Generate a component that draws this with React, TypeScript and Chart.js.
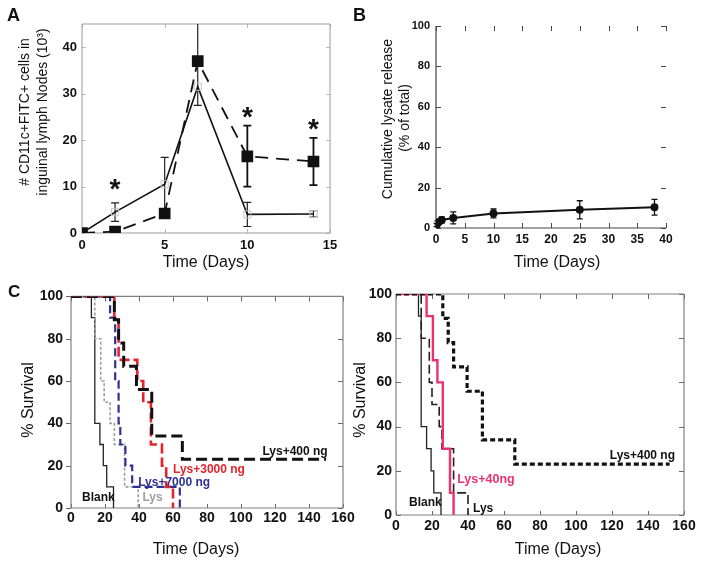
import React, { useEffect, useRef } from "react";
import { Chart, registerables } from "chart.js";

Chart.register(...registerables);

const FONT = "'Liberation Sans', Arial, Helvetica, sans-serif";

// ---------- Panel A : CD11c+FITC+ cells ----------
const aDays = [0, 2, 5, 7, 10, 14];
const aSolid = [0, 4.5, 10.5, 31.5, 4.0, 4.1];
const aSolidLow = [0, 2.5, 4.7, 27.5, 1.4, 3.4];
const aSolidHigh = [0, 6.5, 16.3, 48, 6.6, 4.8];
const aSquares = [0, 0.3, 4.2, 37, 16.5, 15.4];
const aSquaresLow = [0, 0.3, 4.2, 37, 10, 10.3];
const aSquaresHigh = [0, 0.3, 4.2, 37, 23.1, 20.5];
const aStarDays = [2, 10, 14];
const aStarLevels = [11, 26.5, 24];
const aXTicks = [0, 5, 10, 15];
const aYTicks = [0, 10, 20, 30, 40];

// ---------- Panel B : cumulative lysate release ----------
const bDays = [0, 0.1, 0.25, 0.5, 1, 3, 10, 25, 38];
const bRelease = [0, 1.5, 2.5, 3, 4, 5, 7.2, 9, 10.3];
const bError = [0, 0.8, 1, 1, 1.5, 3, 2.2, 4.5, 3.9];
const bXTicks = [0, 5, 10, 15, 20, 25, 30, 35, 40];
const bYTicks = [0, 20, 40, 60, 80, 100];

// ---------- Panel C : survival ----------
const cXTicks = [0, 20, 40, 60, 80, 100, 120, 140, 160];
const cYTicks = [0, 20, 40, 60, 80, 100];

const c1BlankDays = [0, 12, 14, 17, 19, 21, 25];
const c1BlankSurv = [100, 90, 40, 30, 20, 10, 0];
const c1LysDays = [0, 14, 17.5, 19.5, 23, 25.5, 31.5, 39.5];
const c1LysSurv = [100, 80, 60, 50, 40, 30, 10, 0];
const c1Lys7000Days = [0, 23, 26, 28, 29, 32, 36, 64];
const c1Lys7000Surv = [100, 90, 60, 40, 30, 20, 10, 0];
const c1Lys3000Days = [0, 25.5, 28, 39, 42.5, 47, 53.5, 56, 60];
const c1Lys3000Surv = [100, 90, 70, 60, 50, 30, 20, 10, 0];
const c1Lys400Days = [0, 25.5, 28, 31, 38.5, 47.5, 65.5, 150];
const c1Lys400Surv = [100, 89, 78, 67, 56, 34, 23, 23];

const c2BlankDays = [0, 12.5, 14, 17, 19.5, 21, 25];
const c2BlankSurv = [100, 90, 40, 30, 20, 10, 0];
const c2LysDays = [0, 14, 18.5, 20, 24, 25.5, 32, 40];
const c2LysSurv = [100, 80, 60, 50, 40, 30, 10, 0];
const c2Lys40Days = [0, 17, 20.5, 23, 26, 30, 32];
const c2Lys40Surv = [100, 90, 70, 60, 30, 10, 0];
const c2Lys400Days = [0, 26, 29, 32, 39.5, 48, 66, 152];
const c2Lys400Surv = [100, 89, 78, 67, 56, 34, 23, 23];

// ---------- helpers ----------
const pts = (xs: number[], ys: number[]) => xs.map((x, i) => ({ x, y: ys[i] }));

type Area = { w: number; h: number; l: number; r: number; t: number; b: number };

function axis(kind: "x" | "y", min: number, max: number, vals: number[], size: number, pad: number, fit: number) {
  return {
    type: "linear",
    min,
    max,
    grid: { display: false, drawTicks: false },
    border: { display: false },
    ticks: {
      font: { family: FONT, size, weight: "bold" },
      color: "#111",
      padding: pad,
      autoSkip: false,
      maxRotation: 0,
    },
    afterBuildTicks: (s: any) => {
      s.ticks = vals.map((v) => ({ value: v }));
    },
    afterFit: (s: any) => {
      if (kind === "x") s.height = fit;
      else s.width = fit;
    },
  };
}

type TickSpec = { side: "left" | "right" | "top" | "bottom"; values: number[]; len: number; color: string; width?: number };

function framePlugin(sides: string[], color: string, lw: number, ticks: TickSpec[]) {
  return {
    id: "frame",
    beforeDatasetsDraw(chart: any) {
      const { ctx, chartArea: a, scales } = chart;
      ctx.save();
      ctx.lineCap = "butt";
      ticks.forEach((tk) => {
        ctx.strokeStyle = tk.color;
        ctx.lineWidth = tk.width || 1;
        ctx.beginPath();
        tk.values.forEach((v) => {
          if (tk.side === "left" || tk.side === "right") {
            const y = Math.round(scales.y.getPixelForValue(v)) + 0.5;
            const x0 = tk.side === "left" ? a.left : a.right;
            const dir = tk.side === "left" ? 1 : -1;
            ctx.moveTo(x0, y);
            ctx.lineTo(x0 + dir * tk.len, y);
          } else {
            const x = Math.round(scales.x.getPixelForValue(v)) + 0.5;
            const y0 = tk.side === "top" ? a.top : a.bottom;
            const dir = tk.side === "top" ? 1 : -1;
            ctx.moveTo(x, y0);
            ctx.lineTo(x, y0 + dir * tk.len);
          }
        });
        ctx.stroke();
      });
      ctx.strokeStyle = color;
      ctx.lineWidth = lw;
      ctx.beginPath();
      if (sides.includes("left")) {
        ctx.moveTo(a.left, a.top);
        ctx.lineTo(a.left, a.bottom);
      }
      if (sides.includes("bottom")) {
        ctx.moveTo(a.left, a.bottom);
        ctx.lineTo(a.right, a.bottom);
      }
      if (sides.includes("right")) {
        ctx.moveTo(a.right, a.top);
        ctx.lineTo(a.right, a.bottom);
      }
      if (sides.includes("top")) {
        ctx.moveTo(a.left, a.top);
        ctx.lineTo(a.right, a.top);
      }
      ctx.stroke();
      ctx.restore();
    },
  };
}

type ErrSpec = { xs: number[]; lows: number[]; highs: number[]; color: string; width: number; cap: number };

function errorPlugin(specs: ErrSpec[]) {
  return {
    id: "errbars",
    beforeDatasetsDraw(chart: any) {
      const { ctx, chartArea: a, scales } = chart;
      ctx.save();
      ctx.beginPath();
      ctx.rect(a.left - 10, a.top, a.right - a.left + 20, a.bottom - a.top + 2);
      ctx.clip();
      specs.forEach((s) => {
        ctx.strokeStyle = s.color;
        ctx.lineWidth = s.width;
        s.xs.forEach((xv, i) => {
          if (s.highs[i] - s.lows[i] <= 0) return;
          const x = scales.x.getPixelForValue(xv);
          const y1 = scales.y.getPixelForValue(s.lows[i]);
          const y2 = scales.y.getPixelForValue(s.highs[i]);
          ctx.beginPath();
          ctx.moveTo(x, y1);
          ctx.lineTo(x, y2);
          ctx.moveTo(x - s.cap, y1);
          ctx.lineTo(x + s.cap, y1);
          ctx.moveTo(x - s.cap, y2);
          ctx.lineTo(x + s.cap, y2);
          ctx.stroke();
        });
      });
      ctx.restore();
    },
  };
}

type TextItem = {
  text: string;
  x: number;
  y: number;
  data?: boolean;
  font: string;
  color?: string;
  align?: CanvasTextAlign;
  baseline?: CanvasTextBaseline;
  rotate?: number;
  dy?: number;
};

function textPlugin(items: TextItem[]) {
  return {
    id: "texts",
    afterDraw(chart: any) {
      const ctx = chart.ctx;
      items.forEach((it) => {
        let x = it.x;
        let y = it.y;
        if (it.data) {
          x = chart.scales.x.getPixelForValue(it.x);
          y = chart.scales.y.getPixelForValue(it.y);
        }
        y += it.dy || 0;
        ctx.save();
        ctx.translate(x, y);
        if (it.rotate) ctx.rotate(it.rotate);
        ctx.font = it.font;
        ctx.fillStyle = it.color || "#111";
        ctx.textAlign = it.align || "center";
        ctx.textBaseline = it.baseline || "middle";
        ctx.fillText(it.text, 0, 0);
        ctx.restore();
      });
    },
  };
}

function baseConfig(area: Area, xAxis: any, yAxis: any, datasets: any[], plugins: any[]) {
  return {
    type: "line",
    data: { datasets },
    options: {
      responsive: false,
      maintainAspectRatio: false,
      animation: false,
      devicePixelRatio: 1,
      layout: { padding: { left: 0, top: area.t, right: area.w - area.r, bottom: 0 } },
      plugins: { legend: { display: false }, tooltip: { enabled: false } },
      elements: { point: { radius: 0 }, line: { tension: 0 } },
      scales: { x: xAxis, y: yAxis },
    },
    plugins,
  };
}

const f = (size: number, bold = false) => `${bold ? "bold " : ""}${size}px ${FONT}`;
const UP = -Math.PI / 2;

// ---------- panel builders ----------
function makeA() {
  const area: Area = { w: 360, h: 280, l: 82, r: 330, t: 24, b: 233 };
  const datasets = [
    {
      data: pts(aDays, aSquares),
      borderColor: "#111",
      borderWidth: 1.8,
      borderDash: [13, 8],
      pointStyle: "rect",
      pointRadius: 7,
      pointBackgroundColor: "#111",
      pointBorderColor: "#111",
      fill: false,
    },
    {
      data: pts(aDays, aSolid),
      borderColor: "#111",
      borderWidth: 1.6,
      pointStyle: "rect",
      pointRadius: 5,
      pointBackgroundColor: "rgba(255,255,255,0)",
      pointBorderColor: "#c4c4c4",
      pointBorderWidth: 1,
      fill: false,
    },
  ];
  const texts: TextItem[] = [
    ...aStarDays.map((d, i) => ({ text: "*", x: d, y: aStarLevels[i], data: true, font: f(28, true), baseline: "alphabetic" as CanvasTextBaseline, dy: 16 })),
    { text: "Time (Days)", x: 206, y: 263, font: f(16) },
    { text: "# CD11c+FITC+ cells in", x: 25, y: 112, font: f(14), rotate: UP },
    { text: "inguinal lymph Nodes (10\u00B3)", x: 43, y: 112, font: f(14), rotate: UP },
  ];
  const plugins = [
    framePlugin(["left", "right", "top", "bottom"], "#9a9a9a", 1, [
      { side: "left", values: aYTicks, len: 4, color: "#bbb" },
      { side: "right", values: aYTicks, len: 4, color: "#bbb" },
      { side: "top", values: aXTicks, len: 4, color: "#bbb" },
      { side: "bottom", values: aXTicks, len: 4, color: "#bbb" },
    ]),
    errorPlugin([
      { xs: aDays, lows: aSolidLow, highs: aSolidHigh, color: "#222", width: 1.2, cap: 4 },
      { xs: aDays, lows: aSquaresLow, highs: aSquaresHigh, color: "#111", width: 1.8, cap: 4 },
    ]),
    textPlugin(texts),
  ];
  return baseConfig(area, axis("x", 0, 15, aXTicks, 13, 5, area.h - area.b), axis("y", 0, 45, aYTicks, 13, 5, area.l), datasets, plugins);
}

function makeB() {
  const area: Area = { w: 342, h: 280, l: 76, r: 306, t: 26, b: 228 };
  const datasets = [
    {
      data: pts(bDays, bRelease),
      borderColor: "#111",
      borderWidth: 2,
      pointStyle: "circle",
      pointRadius: 3,
      pointBackgroundColor: "#111",
      pointBorderColor: "#111",
      fill: false,
    },
  ];
  const texts: TextItem[] = [
    { text: "Time (Days)", x: 197, y: 263, font: f(16) },
    { text: "Cumulative lysate release", x: 28, y: 119, font: f(14), rotate: UP },
    { text: "(% of total)", x: 45, y: 118, font: f(14), rotate: UP },
  ];
  const plugins = [
    framePlugin(["left", "bottom"], "#444", 1.2, [
      { side: "left", values: bYTicks, len: 5, color: "#444" },
      { side: "right", values: bYTicks, len: 5, color: "#444" },
      { side: "top", values: bXTicks, len: 5, color: "#444" },
      { side: "bottom", values: bXTicks, len: 5, color: "#444" },
    ]),
    errorPlugin([
      {
        xs: bDays,
        lows: bRelease.map((v, i) => v - bError[i]),
        highs: bRelease.map((v, i) => v + bError[i]),
        color: "#111",
        width: 1.3,
        cap: 3,
      },
    ]),
    textPlugin(texts),
  ];
  return baseConfig(area, axis("x", 0, 40, bXTicks, 12, 4, area.h - area.b), axis("y", 0, 100, bYTicks, 11, 6, area.l), datasets, plugins);
}

const surv = (xs: number[], ys: number[], color: string, width: number, dash: number[]) => ({
  data: pts(xs, ys),
  stepped: "before",
  borderColor: color,
  borderWidth: width,
  borderDash: dash,
  borderCapStyle: "butt",
  borderJoinStyle: "miter",
  pointRadius: 0,
  fill: false,
});

function makeC1() {
  const area: Area = { w: 360, h: 282, l: 71, r: 343, t: 13, b: 228 };
  const datasets = [
    surv(c1Lys400Days, c1Lys400Surv, "#111", 3, [11, 5]),
    surv(c1Lys3000Days, c1Lys3000Surv, "#e5232b", 2.6, [10, 4]),
    surv(c1Lys7000Days, c1Lys7000Surv, "#2e3092", 2.2, [8, 4]),
    surv(c1LysDays, c1LysSurv, "#9d9d9d", 1.6, [3, 2]),
    surv(c1BlankDays, c1BlankSurv, "#222", 1.3, []),
  ];
  const texts: TextItem[] = [
    { text: "Lys+400 ng", x: 151, y: 26.5, data: true, font: f(12, true), align: "right" },
    { text: "Lys+3000 ng", x: 60, y: 18, data: true, font: f(12, true), align: "left", color: "#e5232b" },
    { text: "Lys+7000 ng", x: 39.5, y: 12, data: true, font: f(12, true), align: "left", color: "#2e3092" },
    { text: "Lys", x: 42, y: 5, data: true, font: f(12, true), align: "left", color: "#a0a0a0" },
    { text: "Blank", x: 6.5, y: 5, data: true, font: f(12, true), align: "left" },
    { text: "% Survival", x: 29, y: 120, font: f(16), rotate: UP },
    { text: "Time (Days)", x: 196, y: 270, font: f(16) },
  ];
  const plugins = [
    framePlugin(["left", "right", "top", "bottom"], "#808080", 1.2, [
      { side: "left", values: cYTicks, len: -5, color: "#666" },
      { side: "right", values: cYTicks, len: 5, color: "#666" },
      { side: "top", values: cXTicks, len: 5, color: "#666" },
      { side: "bottom", values: cXTicks, len: 4, color: "#666" },
    ]),
    textPlugin(texts),
  ];
  return baseConfig(area, axis("x", 0, 160, cXTicks, 14, 2, area.h - area.b), axis("y", 0, 100, cYTicks, 14, 8, area.l), datasets, plugins);
}

function makeC2() {
  const area: Area = { w: 352, h: 282, l: 46, r: 334, t: 14, b: 235 };
  const datasets = [
    surv(c2Lys400Days, c2Lys400Surv, "#111", 3.2, [5, 3]),
    surv(c2Lys40Days, c2Lys40Surv, "#e8336e", 2.4, []),
    surv(c2LysDays, c2LysSurv, "#222", 1.6, [9, 4]),
    surv(c2BlankDays, c2BlankSurv, "#222", 1.3, []),
  ];
  const texts: TextItem[] = [
    { text: "Lys+400 ng", x: 155, y: 27, data: true, font: f(12, true), align: "right" },
    { text: "Lys+40ng", x: 34, y: 16, data: true, font: f(12.5, true), align: "left", color: "#e8336e" },
    { text: "Blank", x: 7.2, y: 5.4, data: true, font: f(12, true), align: "left" },
    { text: "Lys", x: 42.8, y: 2.7, data: true, font: f(12, true), align: "left" },
    { text: "% Survival", x: 11, y: 120, font: f(16), rotate: UP },
    { text: "Time (Days)", x: 208, y: 270, font: f(16) },
  ];
  const plugins = [
    framePlugin(["left", "right", "top", "bottom"], "#808080", 1.2, [
      { side: "left", values: cYTicks, len: 5, color: "#666" },
      { side: "right", values: cYTicks, len: 5, color: "#666" },
      { side: "top", values: cXTicks, len: 5, color: "#666" },
      { side: "bottom", values: cXTicks, len: 4, color: "#666" },
    ]),
    textPlugin(texts),
  ];
  return baseConfig(area, axis("x", 0, 160, cXTicks, 14, 3, area.h - area.b), axis("y", 0, 100, cYTicks, 14, 4, area.l), datasets, plugins);
}

function Panel({ left, top, w, h, make }: { left: number; top: number; w: number; h: number; make: () => any }) {
  const ref = useRef<HTMLCanvasElement>(null);
  useEffect(() => {
    const chart = new Chart(ref.current as HTMLCanvasElement, make());
    return () => chart.destroy();
  }, []);
  return (
    <canvas
      ref={ref}
      width={w}
      height={h}
      style={{ position: "absolute", left, top, width: w, height: h, display: "block" }}
    />
  );
}

const letterStyle = (left: number, top: number, size: number): React.CSSProperties => ({
  position: "absolute",
  left,
  top,
  fontFamily: FONT,
  fontWeight: "bold",
  fontSize: size,
  lineHeight: `${size}px`,
  color: "#111",
});

export default function App() {
  return (
    <div style={{ position: "absolute", left: 0, top: 0, width: 702, height: 562, background: "#fff", overflow: "hidden" }}>
      <Panel left={0} top={0} w={360} h={280} make={makeA} />
      <Panel left={360} top={0} w={342} h={280} make={makeB} />
      <Panel left={0} top={280} w={360} h={282} make={makeC1} />
      <Panel left={350} top={280} w={352} h={282} make={makeC2} />
      <div style={letterStyle(7, 6, 18)}>A</div>
      <div style={letterStyle(353, 6, 18)}>B</div>
      <div style={letterStyle(8, 283, 17)}>C</div>
    </div>
  );
}
